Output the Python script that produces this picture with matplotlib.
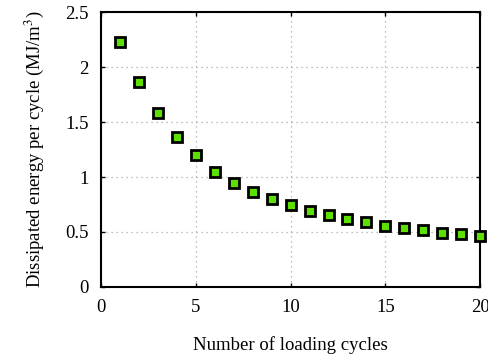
import numpy as np
import matplotlib.pyplot as plt

plt.rcParams['font.family'] = ['Liberation Serif', 'DejaVu Serif']
plt.rcParams['mathtext.fontset'] = 'stix'

# energy dissipated in each loading cycle
cycles = np.arange(1, 21)
energy = [2.23, 1.86, 1.58, 1.36, 1.20, 1.045, 0.945, 0.865, 0.797, 0.742,
          0.69, 0.65, 0.615, 0.588, 0.557, 0.533, 0.515, 0.494, 0.479, 0.461]

fig = plt.figure(figsize=(4.88, 3.56), dpi=100)
ax = fig.add_axes([0.207, 0.194, 0.777, 0.772])

ax.plot(cycles, energy, 's', color='#5ce000', markeredgecolor='black',
        markeredgewidth=2, markersize=7, clip_on=False, zorder=3)

ax.set_xlim(0, 20)
ax.set_ylim(0, 2.5)
ax.set_xticks([0, 5, 10, 15, 20])
ax.set_yticks([0, 0.5, 1, 1.5, 2, 2.5])
ax.set_yticklabels(['0', '0.5', '1', '1.5', '2', '2.5'])
ax.grid(True, linestyle=(0, (1, 3)), color='#aaaaaa', linewidth=0.9)
ax.tick_params(direction='in', length=3, width=1, labelsize=13.5, pad=9,
               top=True, right=True)
for s in ax.spines.values():
    s.set_linewidth(1.5)

ax.set_xlabel('Number of loading cycles', fontsize=13.5, labelpad=14)
ax.set_ylabel('Dissipated energy per cycle (MJ/m$^3$)', fontsize=13.5, labelpad=14)

fig.savefig('out.png', dpi=100)
